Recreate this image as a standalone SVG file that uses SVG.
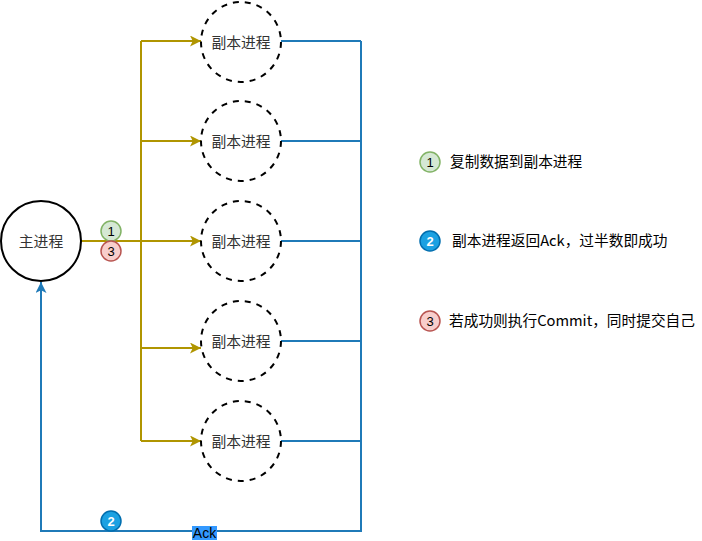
<svg xmlns="http://www.w3.org/2000/svg" width="702" height="541" viewBox="0 0 702 541">
<style>
.rep{fill:#fff;stroke:#000;stroke-width:2;stroke-dasharray:6 6}
.main{fill:#fff;stroke:#000;stroke-width:2}
.t{font-family:"Noto Sans CJK SC","Liberation Sans",sans-serif;font-size:14.8px;text-anchor:middle;fill:#333}
.g{fill:none;stroke:#B09500;stroke-width:2}
.b{fill:none;stroke:#1f7ab8;stroke-width:2}
.num{font-family:"Liberation Sans",Arial,sans-serif;font-size:13px;text-anchor:middle}
.leg{font-family:"Noto Sans CJK SC","Liberation Sans",sans-serif;font-size:14.7px;fill:#000}
.b1{fill:#d5e8d4;stroke:#82b366;stroke-width:1.5}
.b2{fill:#1ba1e2;stroke:#006eaf;stroke-width:1.5}
.b3{fill:#f8cecc;stroke:#b85450;stroke-width:1.5}
</style>
<defs>
<marker id="ag" viewBox="0 0 10 10" refX="10" refY="5" markerWidth="5.5" markerHeight="5.5" orient="auto" markerUnits="strokeWidth"><path d="M0,0 L10,5 L0,10 L2.5,5 Z" fill="#B09500"/></marker>
<marker id="ab" viewBox="0 0 10 10" refX="10" refY="5" markerWidth="5.5" markerHeight="5.5" orient="auto" markerUnits="strokeWidth"><path d="M0,0 L10,5 L0,10 L2.5,5 Z" fill="#1f7ab8"/></marker>
</defs>
<g id="connectors">
<path class="g" d="M81,241 H141" stroke-width="3"/>
<path class="g" d="M141,41 V441"/>
<path class="g" d="M141,41 H201" marker-end="url(#ag)"/>
<path class="g" d="M141,141 H201" marker-end="url(#ag)"/>
<path class="g" d="M141,241 H201" marker-end="url(#ag)"/>
<path class="g" d="M141,348 H201" marker-end="url(#ag)"/>
<path class="g" d="M141,441 H201" marker-end="url(#ag)"/>
<path class="b" d="M281,41 H361 M281,141 H361 M281,241 H361 M281,341 H361 M281,441 H361"/>
<path class="b" d="M361,41 V531 H41 V282" marker-end="url(#ab)"/>
<rect x="192" y="526" width="25" height="14" fill="#3399ff"/>
<text x="204.5" y="538" font-family="Liberation Sans,Arial,sans-serif" font-size="14" text-anchor="middle" fill="#000">Ack</text>
</g>
<g id="main"><circle class="main" cx="41" cy="241" r="40"/><text class="t" x="41" y="246.5">主进程</text></g>
<g id="rep1"><circle class="rep" cx="241" cy="42" r="40"/><text class="t" x="241" y="47.5">副本进程</text></g>
<g id="rep2"><circle class="rep" cx="241" cy="141" r="40"/><text class="t" x="241" y="146.5">副本进程</text></g>
<g id="rep3"><circle class="rep" cx="241" cy="241" r="40"/><text class="t" x="241" y="246.5">副本进程</text></g>
<g id="rep4"><circle class="rep" cx="241" cy="341" r="40"/><text class="t" x="241" y="346.5">副本进程</text></g>
<g id="rep5"><circle class="rep" cx="241" cy="441" r="40"/><text class="t" x="241" y="446.5">副本进程</text></g>
<g id="badge1"><circle class="b1" cx="111" cy="231" r="10"/><text class="num" x="111" y="235.5">1</text></g>
<g id="badge3"><circle class="b3" cx="111" cy="251" r="10"/><text class="num" x="111" y="255.5">3</text></g>
<g id="badge2"><circle class="b2" cx="111" cy="521" r="10"/><text class="num" x="111" y="525.5" fill="#fff" font-weight="bold">2</text></g>
<g id="legend1"><circle class="b1" cx="430" cy="162" r="10"/><text class="num" x="430" y="166.5">1</text><text class="leg" x="450" y="167">复制数据到副本进程</text></g>
<g id="legend2"><circle class="b2" cx="430" cy="241" r="10"/><text class="num" x="430" y="245.5" fill="#fff" font-weight="bold">2</text><text class="leg" x="452" y="246">副本进程返回Ack，过半数即成功</text></g>
<g id="legend3"><circle class="b3" cx="430" cy="321" r="10"/><text class="num" x="430" y="325.5">3</text><text class="leg" x="449" y="326">若成功则执行Commit，同时提交自己</text></g>
</svg>
